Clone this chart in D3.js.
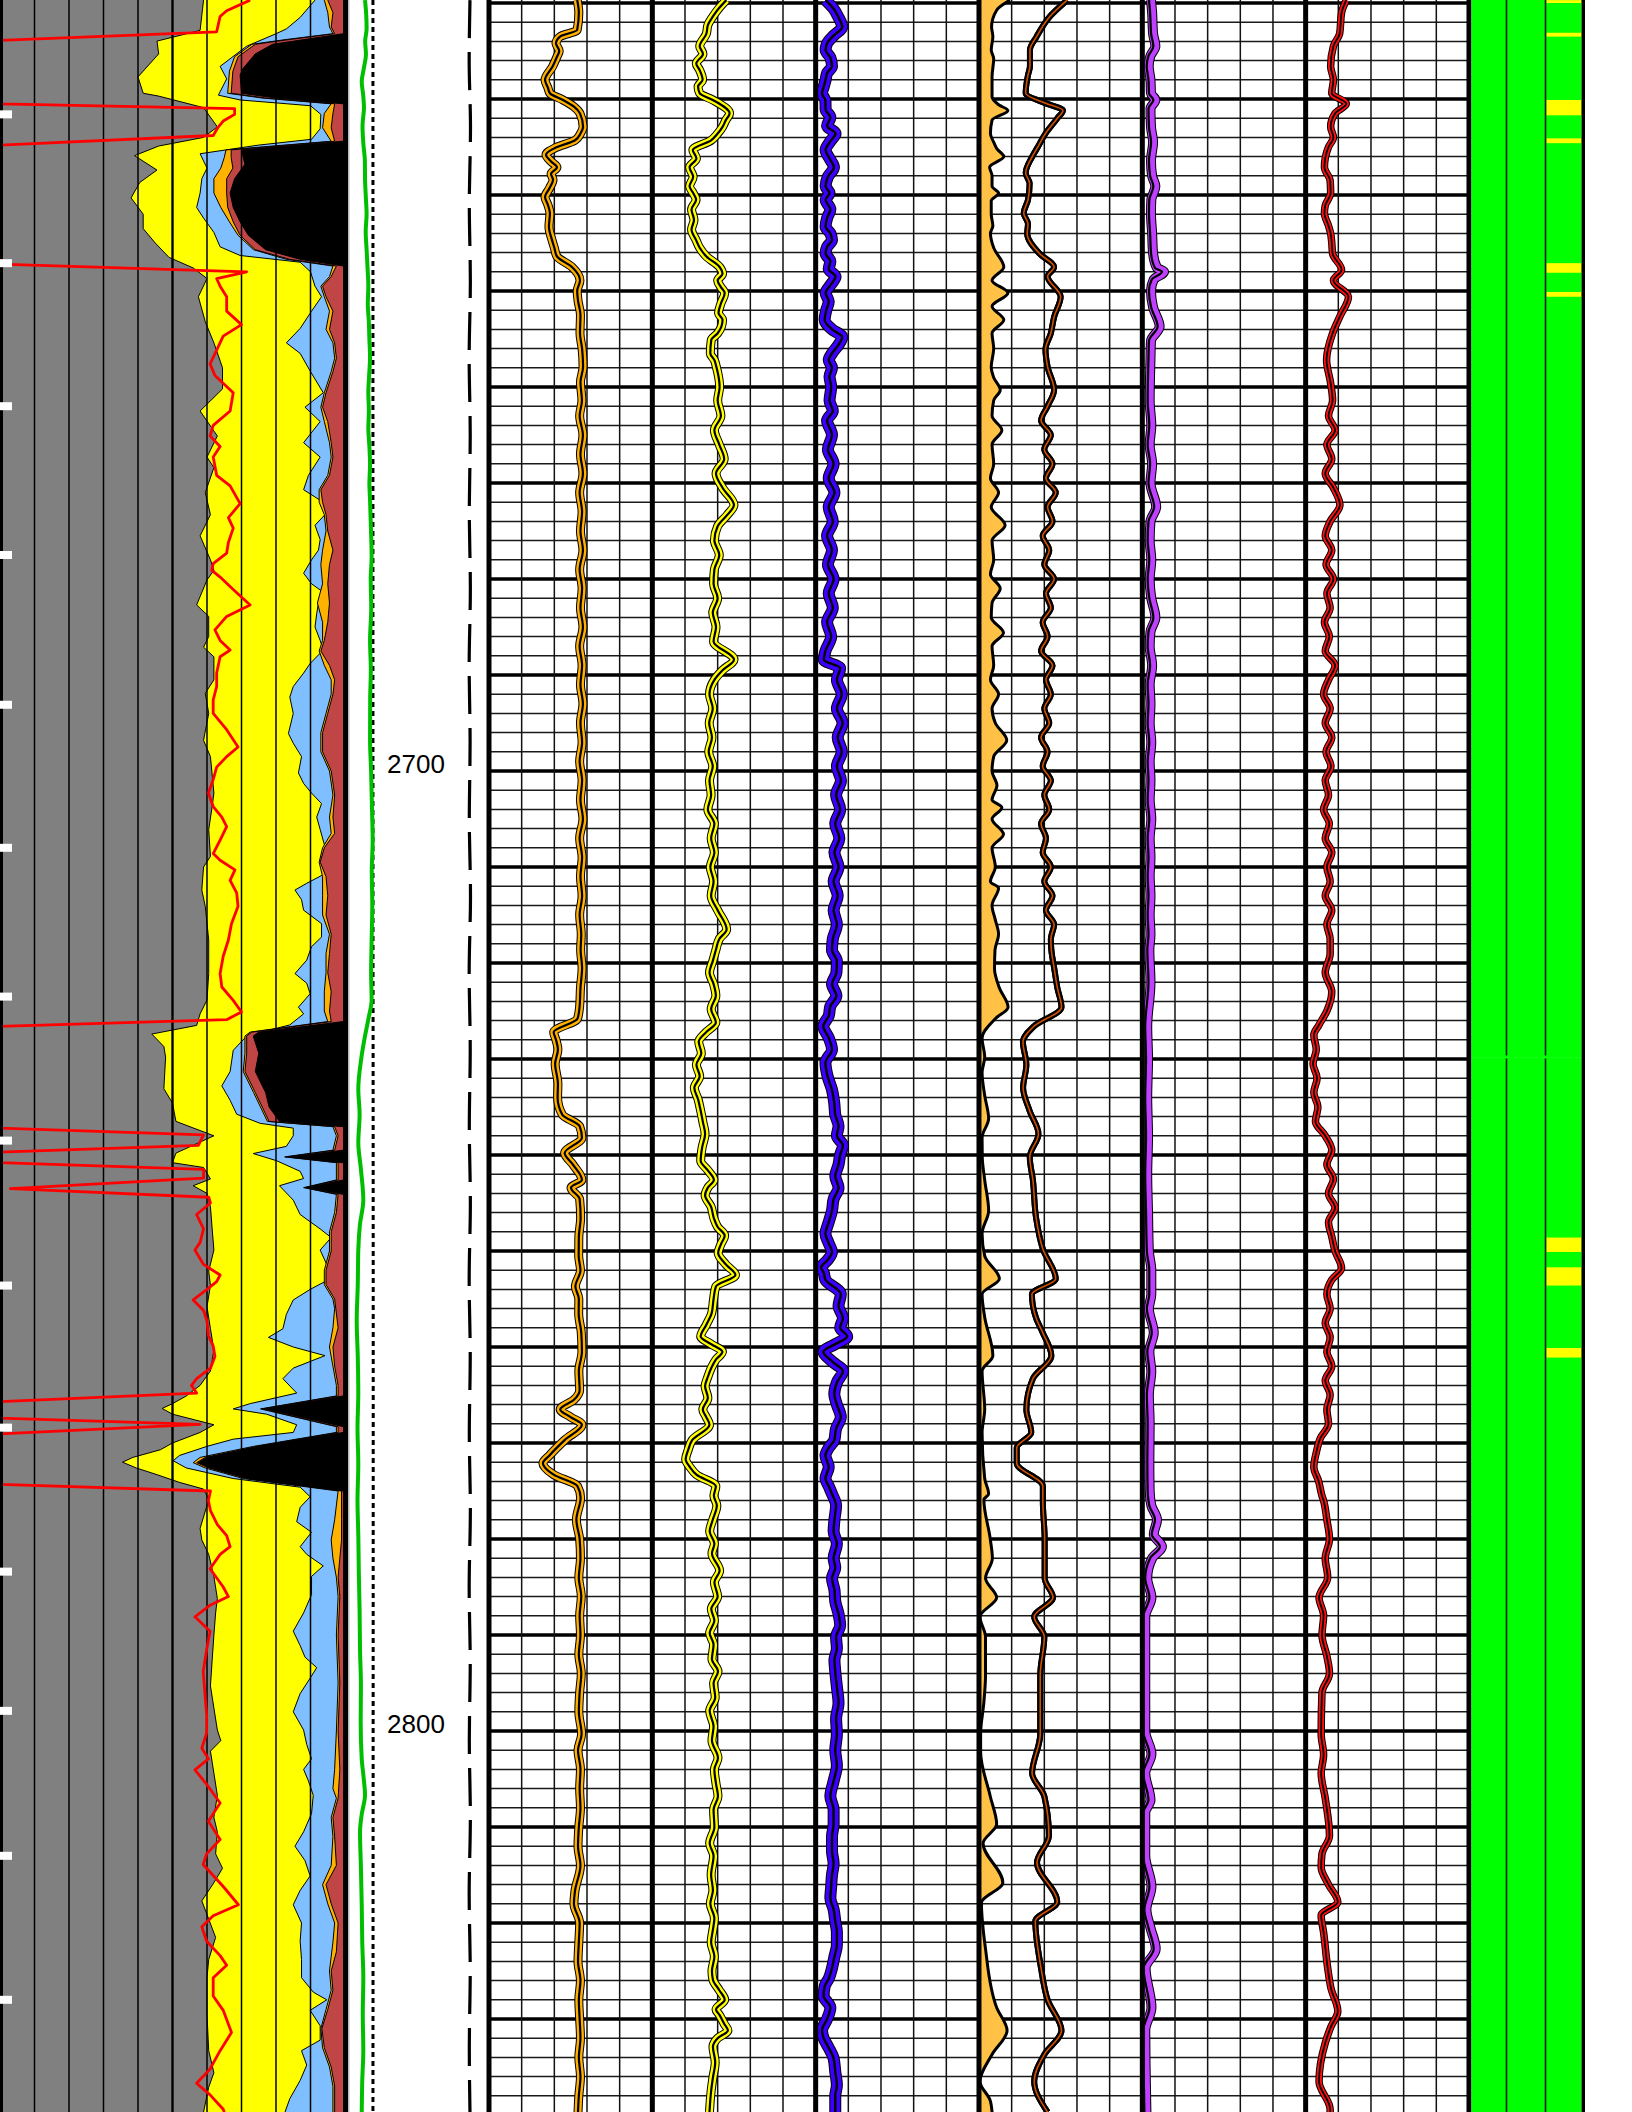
<!DOCTYPE html>
<html>
<head>
<meta charset="utf-8">
<script src="https://cdn.jsdelivr.net/npm/d3@7"></script>
<style>
  html, body { margin: 0; padding: 0; background: #fff; }
  svg { display: block; }
</style>
</head>
<body>
<div id="chart"></div>
<script>
// ---------- depth axis ----------
const depthLabels = [2700, 2800];
const footTicks = [2631.6, 2647.1, 2662.0, 2677.5, 2693.1, 2708.0, 2723.5, 2738.5, 2753.6, 2768.4, 2783.4, 2797.9, 2813.0, 2828.0];

// ---------- track 1 : volumetrics (percent of track width, [depth, value]) ----------
// right edge of clay (gray)
const clayEdge = [[2619.7,59],[2622.85,58],[2623.97,45.5],[2625.3,46],[2627.7,40],[2629.4,41.5],[2629.7,46],[2630.9,59],[2632.9,63],[2634.0,59],[2634.9,46],[2635.9,39],[2637.4,45.5],[2638.7,40.5],[2640.3,38],[2642.0,41.5],[2643.5,41.5],[2645.0,45],[2646.5,49],[2647.6,56],[2648.7,60],[2650.6,57.5],[2653.2,59.5],[2655.4,62],[2658.0,64.5],[2660.2,64.5],[2662.5,58],[2665.1,63],[2667.3,60],[2668.4,62],[2671.0,59.5],[2673.3,61],[2675.5,58],[2678.0,61],[2679.1,62],[2680.1,60],[2682.7,57],[2683.9,60.5],[2686.0,60.5],[2687.1,59],[2688.1,62],[2690.5,62],[2691.9,59.5],[2694.0,60.5],[2696.8,59],[2698.5,61],[2702.3,62],[2703.7,61.5],[2706.1,60.5],[2708.9,61],[2710.0,59],[2712.4,58.5],[2714.1,59.5],[2717.6,60.5],[2721.1,60.5],[2723.85,60],[2725.3,58],[2726.5,57],[2727.4,44],[2728.7,47.5],[2729.8,48],[2733.1,47.5],[2734.6,50],[2736.5,51],[2738.0,62],[2739.8,51],[2740.8,50],[2741.3,59],[2742.5,61],[2743.2,56],[2744.0,60],[2745.4,61],[2747.7,61.5],[2749.9,62],[2752.1,60.5],[2753.6,61],[2755.8,60],[2758.1,61],[2760.3,62],[2762.5,61],[2764.0,58],[2765.1,54],[2765.9,50],[2766.4,47],[2767.0,50],[2768.1,62],[2768.9,58],[2770.0,50],[2770.7,46.5],[2771.5,38.5],[2772.0,35.5],[2772.6,39.5],[2773.3,45.5],[2774.1,52],[2774.8,59],[2775.9,60.5],[2778.9,58],[2780.1,58.5],[2781.6,60.5],[2783.9,62],[2786.2,63],[2787.7,62.5],[2790.0,62],[2792.6,61.5],[2795.3,61],[2797.6,62],[2799.9,63],[2801.0,64],[2802.1,61],[2804.4,62],[2806.7,63],[2809.0,62],[2810.5,63],[2812.8,62.5],[2814.3,64.5],[2815.8,62],[2817.7,58.5],[2819.6,60.5],[2821.5,62.5],[2823.8,60.5],[2825.7,60],[2829.5,60],[2833.3,60.5],[2835.6,62],[2837.1,60.5],[2839.7,59]];

// left edge of water (light blue)
const waterEdge = [[2619.7,91.3],[2621.5,87],[2622.7,83],[2623.2,80],[2624.5,71.5],[2626.6,63.8],[2627.9,65.7],[2629.6,63.3],[2630.1,69.6],[2630.7,90],[2631.6,93],[2633.1,92.8],[2634.2,90.3],[2634.8,75],[2635.7,58],[2637.2,60],[2638.3,58.5],[2639.8,58],[2641.3,57],[2642.4,59],[2643.9,62],[2645.4,63.8],[2646.3,69.6],[2647.0,87],[2648.0,90],[2649.5,91.3],[2650.6,93.2],[2652.1,90.3],[2653.9,87],[2655.4,83],[2656.5,87],[2658.4,90],[2660.6,93.7],[2662.1,88.4],[2663.6,92.8],[2665.8,88],[2667.3,92.8],[2669.2,89.4],[2670.7,88],[2671.8,92.8],[2673.3,94.2],[2674.4,91.3],[2675.9,92.8],[2677.0,92.3],[2678.0,90.3],[2679.4,88],[2680.5,90.3],[2681.5,94.2],[2682.5,92.3],[2683.6,91.8],[2685.0,91.3],[2686.4,92.8],[2687.4,93.7],[2688.8,89.9],[2689.8,88],[2691.2,85],[2692.3,84],[2694.0,85],[2696.1,83.6],[2697.1,85],[2698.5,87.4],[2700.2,86.5],[2701.3,88],[2702.3,90.3],[2703.4,93.2],[2704.8,91.8],[2706.1,92.8],[2707.9,94.2],[2709.3,92.8],[2710.7,94.2],[2711.7,88.9],[2712.4,85.5],[2713.4,87.4],[2714.5,88],[2715.9,93.2],[2717.3,93.2],[2718.3,90.3],[2719.7,88.9],[2721.1,85.5],[2722.1,88.9],[2723.2,89.9],[2724.6,86.5],[2725.3,88],[2726.45,84],[2727.6,71.5],[2729.1,67.6],[2731.3,66.7],[2732.8,64.3],[2734.3,66.7],[2735.75,68.6],[2736.7,75.4],[2737.2,85],[2738.0,85],[2739.1,83],[2739.85,73.4],[2740.6,80.2],[2741.7,87],[2742.45,88],[2743.2,81],[2744.7,85],[2746.2,87],[2747.7,92.8],[2748.6,96],[2749.9,92.8],[2751.4,94.7],[2752.9,95.7],[2754.0,89.9],[2755.1,85],[2756.6,83],[2758.1,82],[2759.0,77.8],[2760.0,85],[2760.9,94.2],[2762.2,85],[2763.3,82],[2764.8,86],[2765.9,72.5],[2766.45,67.6],[2767.0,77.3],[2768.1,86],[2768.9,85],[2769.6,67.6],[2770.35,60],[2771.3,52],[2771.85,50.2],[2772.6,54],[2773.7,67.6],[2774.6,87],[2775.6,89.9],[2776.7,87],[2778.2,86],[2779.3,90.3],[2780.8,87],[2781.6,88.9],[2782.8,93.7],[2783.9,90.3],[2785.8,90.3],[2787.7,88],[2789.6,85],[2791.1,87],[2792.3,88.4],[2793.4,91.8],[2794.5,89.9],[2796.1,87],[2798.0,85],[2799.9,88],[2801.4,88.9],[2802.9,90.3],[2804.0,88],[2805.2,89.4],[2806.7,90.8],[2808.6,90.3],[2810.5,88],[2812.0,85.5],[2813.5,88.4],[2815.1,89.9],[2816.6,87],[2818.1,85],[2820.0,87.4],[2821.9,87],[2823.8,87.4],[2825.7,87.4],[2827.2,90.8],[2828.0,94.7],[2829.1,89.9],[2830.7,92.8],[2832.2,92.8],[2833.3,87.4],[2834.8,88.9],[2836.4,87],[2838.3,84],[2839.7,82.6]];

// left edge of the orange component
const orangeEdge = [[2619.7,94],[2621.0,95],[2622.5,95.5],[2623.2,96.5],[2623.8,83],[2624.3,73],[2625.6,68],[2627.1,66.5],[2629.4,66],[2629.9,76],[2630.5,96],[2631.5,94],[2633.0,93.5],[2634.4,96],[2635.3,65.5],[2636.1,65],[2637.2,64],[2638.3,62],[2639.8,62],[2641.3,64],[2642.8,66.5],[2644.2,69],[2645.7,73.5],[2646.7,83],[2647.4,96.5],[2648.5,95.5],[2649.5,93],[2650.6,94],[2652.1,95.5],[2654.0,94.5],[2655.4,96.5],[2657.0,97],[2658.4,96],[2660.6,94],[2662.1,93],[2663.6,94],[2665.8,95.5],[2667.3,96],[2669.2,95],[2670.7,92.5],[2672.0,92.5],[2673.3,94],[2675.0,94.5],[2677.0,93.5],[2678.5,93],[2680.5,93.5],[2682.5,92],[2684.5,93.5],[2686.4,93.5],[2687.5,92.5],[2689.0,94],[2690.5,96],[2692.0,96],[2694.0,94.5],[2696.0,93],[2698.0,93],[2700.0,95.5],[2702.5,96.5],[2704.8,95.5],[2706.5,96],[2708.0,93.5],[2709.5,92.5],[2711.0,93.5],[2713.0,93.5],[2715.0,93.5],[2717.0,95.5],[2719.0,94.5],[2721.0,94.5],[2723.0,94],[2725.0,94],[2726.1,95],[2727.2,72.5],[2727.6,71],[2729.4,71],[2731.3,70.5],[2733.5,73.5],[2735.0,75.5],[2736.5,77.5],[2737.05,96.5],[2738.0,97.5],[2739.5,96.5],[2740.2,82.5],[2740.8,97.5],[2742.6,97.5],[2743.4,88],[2744.1,97.5],[2746.0,97],[2748.0,95.5],[2750.0,95.5],[2752.0,94],[2753.5,94],[2755.0,96.5],[2756.0,97],[2758.0,96.5],[2760.0,95.5],[2762.0,96.5],[2764.0,97.5],[2765.1,97.5],[2766.45,75.5],[2768.3,97.5],[2768.9,97.5],[2770.35,73.5],[2771.5,58],[2772.05,56],[2772.6,59.5],[2773.7,70.5],[2775.0,98],[2778.0,97],[2780.1,96],[2782.0,96.5],[2784.0,97.5],[2786.0,98],[2790.0,97.5],[2795.0,98],[2800.0,97.5],[2804.0,97],[2806.0,96.5],[2807.0,97.5],[2809.0,96],[2811.0,96.5],[2814.0,96],[2816.0,93.5],[2818.0,95],[2820.0,97],[2822.0,96.5],[2825.0,95.5],[2827.0,96],[2829.0,94.5],[2831.0,93],[2833.0,93.5],[2835.0,95.5],[2837.0,96.5],[2839.7,96.5]];

// left edge of bound water (brown)
const boundEdge = [[2619.7,95],[2621.0,96.5],[2622.5,96],[2623.2,97],[2623.8,84],[2624.3,74],[2625.6,69],[2627.1,67.5],[2629.4,67],[2629.9,77],[2630.5,97],[2631.5,96.5],[2633.0,96],[2634.4,97],[2635.3,67],[2636.1,67],[2637.2,67.5],[2638.3,65.7],[2639.8,65.7],[2641.3,66],[2642.8,67.6],[2644.2,69.6],[2645.7,74],[2646.7,84],[2647.4,97.5],[2648.5,96],[2649.5,93.5],[2650.6,94.5],[2652.1,96.5],[2654.0,95.5],[2655.4,97],[2657.0,97.5],[2658.4,96.5],[2660.6,94.5],[2662.1,93.5],[2663.6,95],[2665.8,96],[2667.3,96.5],[2669.2,95.5],[2670.7,93],[2672.0,93.5],[2673.3,94.5],[2675.0,95],[2677.0,96.5],[2678.5,95.5],[2680.5,95],[2682.5,95.5],[2684.5,95],[2686.4,94],[2687.5,93],[2689.0,95.5],[2690.5,97],[2692.0,96.5],[2694.0,95],[2696.0,93.5],[2698.0,93.5],[2700.0,96],[2702.5,97],[2704.8,96.5],[2706.5,97],[2708.0,94],[2709.5,92.8],[2711.0,94.5],[2713.0,95],[2715.0,94.5],[2717.0,96],[2719.0,95.5],[2721.0,95],[2723.0,96],[2725.0,95.5],[2726.1,96],[2727.2,73],[2727.6,71.5],[2729.4,71.5],[2731.3,71],[2733.5,74],[2735.0,76],[2736.5,78],[2737.05,97],[2738.0,98],[2739.5,97],[2740.2,83],[2740.8,98],[2742.6,98],[2743.4,88.5],[2744.1,98],[2746.0,97.5],[2748.0,96],[2750.0,96],[2752.0,94.5],[2753.5,94.5],[2755.0,97],[2758.0,98],[2760.0,96.5],[2762.0,97],[2764.0,98],[2765.1,98],[2766.45,76],[2768.3,98],[2768.9,98],[2770.35,74.5],[2771.5,59.5],[2772.05,57],[2772.6,60.5],[2773.7,71.5],[2775.0,99],[2778.0,99],[2780.1,99],[2782.0,98.5],[2784.0,98],[2786.0,98.5],[2790.0,98],[2795.0,98.5],[2800.0,98],[2804.0,98.5],[2807.0,98],[2809.0,96.5],[2811.0,97],[2814.0,97.5],[2816.0,94.5],[2818.0,96],[2820.0,98],[2823.0,97.5],[2825.0,96],[2827.0,96.5],[2829.0,95],[2831.0,93.3],[2833.0,94],[2835.0,96],[2837.0,97],[2839.7,97]];

// left edge of hydrocarbon (black)
const hydroEdge = [[2619.7,100],[2623.0,100],[2623.2,99.5],[2624.3,79],[2625.3,74],[2626.8,70.5],[2627.5,69.6],[2629.4,70],[2629.9,80],[2630.5,99.5],[2630.6,100],[2634.3,100],[2634.4,99.5],[2635.3,70],[2636.1,70.5],[2636.8,71],[2638.3,68],[2639.8,66.7],[2641.3,67.6],[2642.8,69.6],[2644.2,72],[2645.7,77],[2646.7,87],[2647.4,99.5],[2647.5,100],[2726.0,100],[2726.1,99.5],[2727.2,75],[2727.6,73.4],[2729.4,75],[2731.3,74],[2733.5,77],[2735.0,78],[2736.5,81],[2737.05,99.5],[2737.1,100],[2739.4,100],[2739.5,99.5],[2740.2,84],[2740.8,99.5],[2740.9,100],[2742.5,100],[2742.6,99.5],[2743.4,89],[2744.1,99.5],[2744.2,100],[2765.0,100],[2765.1,99.5],[2766.45,77],[2768.3,99.5],[2768.4,100],[2768.8,100],[2768.9,99.5],[2770.35,75],[2771.5,60],[2772.05,57.5],[2772.6,61],[2773.7,72],[2775.0,99.5],[2775.1,100],[2839.7,100]];

// red curve of track 1 (off-scale values pinned at 0)
const spCurve = [[2619.7,72.5],[2620.8,65.7],[2621.4,63.8],[2623.0,62.8],[2623.9,0],[2630.5,0],[2631.0,68],[2631.6,68],[2632.3,64.7],[2632.9,63.3],[2633.8,61.8],[2634.8,0],[2647.2,0],[2648.0,71.5],[2648.7,62.8],[2649.5,63.8],[2650.6,65.7],[2652.1,65.7],[2653.5,70],[2654.7,64.7],[2656.15,62.8],[2657.6,60.9],[2658.8,62.3],[2660.6,67.6],[2662.5,66.7],[2664.0,61.8],[2665.1,60.9],[2666.2,63.8],[2667.3,61.8],[2669.2,62.8],[2670.3,66.7],[2672.15,69.6],[2673.6,66.2],[2674.7,67.6],[2676.2,66.2],[2677.3,65.7],[2678.4,61.8],[2679.1,61.4],[2679.8,63.8],[2681.1,67.6],[2682.7,72.5],[2683.9,65.7],[2685.3,62.3],[2686.4,63.8],[2687.4,66.7],[2688.1,63.8],[2689.8,62.8],[2691.2,62.8],[2692.6,61.8],[2694.0,61.8],[2695.7,65.7],[2697.5,69],[2698.5,65.7],[2699.6,62.8],[2700.9,61.8],[2702.3,60.4],[2703.7,61.8],[2704.8,64.3],[2705.8,65.7],[2707.2,63.8],[2708.6,61.8],[2709.3,63.8],[2710.3,68.1],[2711.4,66.7],[2712.7,68.6],[2714.1,69],[2715.9,67.1],[2717.6,66.2],[2719.3,64.7],[2721.1,63.8],[2722.5,64.3],[2723.9,67.6],[2725.1,70],[2725.9,65.7],[2726.6,0],[2737.2,0],[2737.9,59],[2739.0,57.5],[2739.7,0],[2740.8,0],[2741.5,59],[2742.4,59],[2743.5,3],[2744.4,60.5],[2745.0,61],[2746.2,57],[2747.7,59],[2749.1,58],[2749.9,56.5],[2751.4,59],[2752.5,63.8],[2753.2,62.8],[2754.0,60],[2755.1,56],[2756.2,59],[2757.3,60],[2758.8,60.4],[2759.9,61.8],[2761.0,62.3],[2762.2,61],[2763.3,57],[2764.0,55.5],[2764.8,57],[2765.7,0],[2767.4,0],[2768.05,58],[2769.05,0],[2774.3,0],[2775.0,61],[2776.0,60.4],[2777.05,61],[2778.5,63],[2779.65,65.7],[2780.8,66.7],[2781.6,63.8],[2783.1,60.9],[2785.0,64.7],[2786.0,66.2],[2786.9,60.9],[2788.1,56.5],[2789.6,60.9],[2791.5,59.9],[2793.8,58.9],[2796.1,59.4],[2798.3,59.9],[2800.2,59.9],[2801.8,58.5],[2802.9,60.4],[2804.05,56.5],[2805.55,59.9],[2807.5,63.8],[2809.4,60.4],[2811.3,63.8],[2812.8,59.9],[2813.9,58.9],[2816.2,64.7],[2818.1,69.1],[2819.25,61.8],[2820.4,58.5],[2821.9,59.9],[2823.4,63.8],[2824.4,65.7],[2825.7,61.8],[2827.6,61.8],[2829.1,64.7],[2831.4,67.1],[2833.3,63.8],[2835.2,60.9],[2836.7,57],[2837.9,60.9],[2839.4,64.7],[2839.7,65]];

// ---------- depth track curves (percent of depth track width) ----------
const caliper = [[2619.7,12.9],[2621.2,13.8],[2622.7,14.1],[2624,13],[2625.3,13.6],[2626.8,12],[2628.2,10.4],[2629.6,11.5],[2630.9,12.1],[2632.8,11],[2634.6,11.6],[2636.5,12.8],[2638.3,12.9],[2640.2,13.5],[2642.0,14.1],[2643.8,13.4],[2645.7,14.1],[2647.6,14.8],[2649.5,15.4],[2651.4,15],[2653.2,15.8],[2655,16.2],[2656.9,16.7],[2658.8,16],[2660.6,15.4],[2662.5,15.8],[2664.3,15.4],[2666.2,16.2],[2668.1,16.7],[2670,16.2],[2671.8,16.7],[2674.8,17.4],[2677.7,17.9],[2680,17.2],[2683,17.6],[2686.4,16.7],[2689.5,17.3],[2692.5,16.8],[2696.8,16.7],[2700,17.5],[2703.5,18.1],[2707.2,18.7],[2710.5,18],[2714,18.4],[2717.6,17.9],[2721,17.5],[2723.85,17.9],[2725.8,15.5],[2727.6,12.9],[2730,10],[2733.1,7.8],[2735.8,8.8],[2738.7,7.8],[2741.5,9.8],[2744.7,11.6],[2747.3,9],[2749.9,7.8],[2753.5,7.4],[2757.3,6.6],[2761,7.4],[2764.8,7.8],[2768.5,7.2],[2772.2,7.8],[2776,7.2],[2779.6,7.8],[2783.5,8.2],[2787.5,8.8],[2791.5,9.1],[2795.3,9.8],[2799,9.6],[2802.9,10.4],[2804.8,11.8],[2806.7,12.9],[2808.6,10.5],[2810.5,9.1],[2814.3,9.8],[2818.1,10.4],[2822,10.8],[2825.7,11.6],[2829.5,11.2],[2833.3,11.6],[2836.4,10.8],[2839.7,10.4]];
const bitSize = [[2619.7,18.9],[2690,18.9],[2762,19.1],[2839.7,18.9]];
const tension = [[2619.7,92.4],[2626,91.8],[2633,92.8],[2641,91.9],[2649,92.7],[2657,91.8],[2665,92.6],[2673,91.9],[2681,92.7],[2689,91.8],[2697,92.5],[2705,91.9],[2713,92.8],[2721,91.8],[2729,92.6],[2737,91.9],[2745,92.7],[2753,91.8],[2761,92.6],[2769,91.9],[2777,92.7],[2785,91.8],[2793,92.6],[2801,91.9],[2809,92.7],[2817,91.8],[2825,92.6],[2833,91.9],[2839.7,92.4]];

// ---------- tracks 2-7 (percent of each track width) ----------
const curveT2 = [[2619.7,54],[2621,55],[2622.8,54],[2623.5,43.5],[2624.2,41],[2625,43],[2625.6,41.6],[2626.6,39],[2628,34.3],[2628.8,36],[2629.4,37.3],[2630.1,45.3],[2630.8,52],[2631.5,55.7],[2632.9,57.6],[2633.6,56],[2634.3,52.7],[2635.1,40.4],[2635.8,34.9],[2636.5,38],[2637.1,41.6],[2637.8,38],[2638.4,39.2],[2639.3,37],[2640.2,34.3],[2641,36],[2641.9,37.3],[2643.3,36.7],[2644.7,38.6],[2645.5,40],[2646.4,41.6],[2647.5,50.8],[2648.9,55.7],[2650,54],[2651,54.5],[2652.5,56],[2654.4,55.7],[2656,57],[2657.9,57.6],[2659.5,56],[2661.4,56.9],[2663,55.5],[2665,57.5],[2667,56],[2669,57.5],[2671,55.5],[2673,57],[2675,56],[2677,57.5],[2679,55.5],[2681,57],[2683,56],[2685,57.5],[2687,55.5],[2689,57],[2691,56],[2693,57.5],[2695,56],[2697,57],[2699,55.5],[2701,57],[2703,56],[2705,57.5],[2707,55.5],[2709,57],[2711,56],[2713,57],[2715,55.5],[2717,56.5],[2718.65,56.1],[2720.5,57],[2722.6,56],[2724.5,55.5],[2725.8,54.2],[2727.2,39.6],[2728,41],[2729,42.2],[2730.5,40.5],[2732.6,42.2],[2734,42],[2735.8,44.9],[2737,55.5],[2738.2,56.9],[2739.8,46.3],[2741,51.4],[2742.6,56.9],[2743.4,50.2],[2744.6,55.5],[2746.6,56.1],[2748.5,55],[2750.5,54.9],[2752,56],[2753.7,52.9],[2755,55],[2756.5,54.9],[2758.5,56.5],[2760.5,56.9],[2762.5,55],[2764.5,55.5],[2765.5,52],[2766.5,43.6],[2767.3,50],[2768.1,56.9],[2769.7,46.3],[2771.3,37],[2772.1,33],[2773.3,39.6],[2774.5,54.2],[2775.7,56.1],[2778,53.5],[2780,55.5],[2782,56],[2784,55],[2786,56.5],[2788,55.5],[2790,56],[2792,55],[2794,56.5],[2796,55.5],[2798,55],[2800.3,56.7],[2802,54.5],[2804,56],[2806,55.5],[2808,56],[2810,55],[2812,54.5],[2814,56],[2816.6,52.7],[2818,52],[2820,55.5],[2822,55],[2824,54.5],[2826,56],[2828,55],[2830,55.5],[2832,56],[2834,55],[2836,56],[2838,55],[2839.7,54.5]];

const curveT3 = [[2619.7,45.3],[2620.5,41],[2621.4,37.1],[2622.3,34],[2623.2,33.1],[2624.5,29],[2625.3,31],[2626.3,26.9],[2627,29],[2628,30.8],[2628.7,28],[2629.4,29],[2630.1,37],[2631.5,47.3],[2632.2,45],[2632.9,43],[2633.6,40],[2634.3,36],[2635.3,24.8],[2636.2,27],[2637.1,22.8],[2638.1,25],[2639.1,22.8],[2639.8,25],[2640.5,26.8],[2641.5,24],[2642.6,25.5],[2643.6,24],[2644.7,26.8],[2645.5,29],[2646.4,33.1],[2647.5,41.2],[2648.2,43],[2648.9,40],[2649.6,42],[2650.2,44.3],[2651.3,42],[2652.3,40.5],[2653,43],[2653.7,42.3],[2654.4,40],[2655.1,36.1],[2656.5,35.5],[2657.2,38],[2657.9,39.2],[2660,41.2],[2661.4,40],[2663,42],[2664.5,38],[2666,41],[2667.5,44],[2669,39],[2670.5,43],[2672.3,50],[2673.3,46],[2674.5,40],[2676,38],[2677.5,41],[2679,38],[2680.5,37.5],[2682,40],[2683.5,37],[2685,39],[2686.5,37.5],[2688.4,50],[2689.5,43],[2690.5,38],[2692,35],[2693.5,37],[2695,34.8],[2696.5,36.5],[2698,34.5],[2699.5,37],[2701,35],[2702.5,36],[2704,34],[2705.5,38],[2707,36],[2708.5,38],[2710,35.5],[2711.5,37.5],[2713,36],[2714.5,40],[2716.5,45.5],[2717.5,41],[2718.65,38.9],[2719.8,37],[2721,35],[2722.2,37.5],[2723.4,38.9],[2724.8,36],[2726.2,38.9],[2727.2,33],[2728.2,28.4],[2729.4,30],[2730.6,27],[2731.8,29],[2733,25.7],[2734.2,28],[2735.4,29.6],[2736.6,31],[2737.8,32.3],[2739.2,30.5],[2740.6,29.6],[2741.6,34],[2742.6,37.7],[2743.4,34],[2744.2,32.3],[2745.4,36],[2746.6,37.7],[2747.5,40],[2748.4,44.3],[2749.3,42],[2750.2,40.3],[2751.4,45],[2752.5,50.9],[2753.7,38.9],[2755,37.5],[2756.5,36.3],[2757.7,33],[2758.9,29.6],[2759.7,36],[2760.5,42.9],[2761.3,39],[2762.1,36.3],[2763.1,34],[2764.1,32.3],[2765.3,34],[2766.5,30.9],[2767.3,33],[2768.1,35],[2769.7,24.4],[2770.7,22],[2771.7,20.4],[2772.5,23],[2773.3,27],[2774.5,38.9],[2775.5,37.7],[2776.5,39.5],[2778,37],[2779.2,35.1],[2780.5,38],[2781.5,36.5],[2783.3,41.2],[2784.5,38],[2786,40],[2787.3,36.1],[2788.5,38],[2789.8,35.1],[2791,37.5],[2792.5,36.5],[2793.8,40.2],[2795,37.5],[2796.5,38.5],[2797.9,35.1],[2799.5,37.5],[2801,36.5],[2802.8,40.2],[2804,38],[2805.5,39],[2806.8,40.2],[2808.2,37.5],[2810,38],[2811.7,35.1],[2813,37.5],[2815,36],[2816.6,37.1],[2818,35.5],[2819.5,38],[2820.7,37.1],[2822,36],[2823.5,38],[2825,36.5],[2825.9,37.1],[2827,41],[2828,44.3],[2829,39],[2829.6,41.2],[2830.5,44],[2831.2,46.3],[2832,40],[2832.9,37.1],[2834.5,38.5],[2836.1,37.1],[2837.5,36],[2839.4,35.1],[2839.7,35]];

const curveT4 = [[2619.7,6.1],[2620.6,11],[2621.5,14],[2622.5,16.3],[2623.4,11],[2624.2,7],[2624.9,6.1],[2625.7,9],[2626.6,10],[2627.3,7],[2628,6.1],[2628.7,5],[2629.4,3.9],[2630.2,6],[2631.1,6.1],[2631.9,9],[2632.8,7],[2633.6,12.2],[2634.4,9],[2635.3,6.1],[2636.2,8.5],[2637.1,11.2],[2638.1,7.5],[2639.1,6.1],[2639.8,8.5],[2640.5,6.1],[2641.5,9],[2642.4,7],[2643.3,6.1],[2644,9],[2644.7,10],[2645.4,7],[2646.1,6.1],[2646.9,9],[2647.7,8],[2648.5,12.2],[2649.4,9],[2650.2,6.1],[2651.1,8],[2652,6.5],[2653,5.5],[2654,10],[2654.8,16.3],[2655.6,14],[2656.5,10],[2657.2,8],[2658,10],[2658.9,8.5],[2660,9.5],[2661.4,8.5],[2662.5,10.5],[2663.5,7],[2665,10],[2666.5,7.5],[2668,11],[2669.5,8],[2671,11.5],[2672.5,8],[2674,10.5],[2675.5,7],[2677,10],[2678.5,7.5],[2680,11],[2681.5,8],[2683,10.5],[2684.5,7],[2686,9.5],[2687.5,6],[2688.4,5],[2689.3,15],[2690.5,13],[2692,16],[2693.5,13],[2695,16.5],[2696.5,13.5],[2698,16],[2699.5,13],[2701,15.5],[2702.5,12.5],[2704,15],[2705.5,12],[2707,14.5],[2708.5,11.5],[2710,14],[2711.5,11],[2713,13.5],[2714.5,11],[2716,13],[2717.5,10.5],[2718.65,10],[2719.8,13],[2721,12.7],[2722.2,10],[2723.4,12.7],[2724.5,9],[2725.5,8],[2726.6,4.7],[2727.8,8],[2729,10],[2730.4,6],[2731.8,7.3],[2733.2,10],[2734.6,11.4],[2735.8,12],[2737,14],[2738,13],[2739,16.7],[2740,15],[2741,14],[2742.2,12],[2743.4,14],[2744.6,11],[2745.8,10],[2747,8],[2748.2,6],[2749.2,8],[2750.1,10],[2751,7],[2751.7,3.4],[2752.3,5],[2753,6],[2754.5,15.4],[2755.7,14],[2757,16.7],[2758,15],[2758.9,19.3],[2759.7,12],[2760.5,4.7],[2761.5,10],[2762.5,16.7],[2763.7,13],[2764.9,11.4],[2766,13],[2767.3,15.4],[2768.5,12.5],[2769.7,11.4],[2770.5,8],[2771.3,6],[2772.5,8],[2773.7,6],[2774.5,8],[2775.3,10],[2776.5,12.5],[2778,11.5],[2779.2,11],[2780.5,13],[2782,11],[2783,12],[2784.1,10],[2785.3,11.5],[2786.5,12],[2787.8,14],[2789,15],[2790.2,12.5],[2791.4,13],[2792.6,11.5],[2793.8,12],[2795.4,13],[2797.1,14],[2798.7,12.5],[2800.3,13],[2802,12],[2803.6,13],[2805.2,11],[2806.8,9],[2808.2,11],[2809.7,11],[2811,10],[2812.5,10],[2813.8,11],[2815,10],[2816.2,9.5],[2817.4,9],[2818.6,11],[2819.8,12],[2821,13],[2822.3,13],[2823.5,11.5],[2824.7,10],[2825.8,8],[2826.6,5.5],[2827.6,4.9],[2828.8,9],[2830,7],[2831.2,3.9],[2832,4.9],[2833,8],[2834.1,11],[2835.5,12],[2836.9,13],[2838,12],[2839.4,12],[2839.7,12]];

const fillT5 = [[2619.7,19],[2620.7,11],[2622.5,7.7],[2623.5,8.5],[2624.9,7.5],[2625.8,9],[2627.7,8],[2629.8,8],[2630.6,12],[2631.2,17.7],[2632.2,8],[2633.6,7],[2634.5,9],[2635.2,11],[2636,15.2],[2637.1,6.5],[2638,8],[2639.1,8],[2639.8,12],[2640.6,7.5],[2642,7.5],[2643.2,8.5],[2644,7],[2645.5,9],[2647.5,15.2],[2648.9,8],[2650.2,17.7],[2651.6,8],[2653,15.2],[2654.4,8],[2656,9],[2657.9,7.5],[2659,9],[2660.3,13],[2661.4,9],[2663,8],[2664.5,14],[2666,8],[2668,9],[2669.5,7],[2671,12],[2672.5,7.5],[2674.4,16],[2676,8],[2678,9],[2679.5,7],[2681,13],[2682.5,8],[2684,7.5],[2685.6,15],[2687,8],[2689,9],[2690.5,7],[2692,12],[2693.5,8],[2695,10],[2696.8,17],[2698.5,9],[2700,8],[2701.5,11],[2703,8],[2703.8,14],[2705,8],[2706.6,15],[2708,8],[2710,10],[2711.5,7],[2712.2,12],[2714,8],[2715.5,10],[2717,12],[2718.65,9.8],[2720.6,9.5],[2722.6,12.5],[2724.6,17.8],[2725.8,10],[2727.8,1.9],[2729.8,3.5],[2731.4,1.9],[2733.8,3.5],[2736.2,5.9],[2738.2,1.9],[2740.2,2],[2742.6,3.5],[2745.8,5.9],[2748.2,1.9],[2750.5,3.5],[2752.9,12.5],[2754.5,1.9],[2756.9,3.5],[2760.9,8.5],[2762.5,1.9],[2766.5,3.5],[2768.9,1.9],[2773.7,3.5],[2775.3,5.9],[2775.9,3],[2780,6.9],[2782,8.2],[2784.1,4],[2786.1,10.8],[2788.1,0.6],[2790.2,4],[2794.2,4],[2797,3],[2800.3,1],[2802.2,1],[2806.8,6.9],[2809.7,10.8],[2811.7,2.5],[2815.8,14.6],[2817.9,1.5],[2822.7,4],[2828.8,10.8],[2831.2,17.2],[2833.7,8],[2836.5,0.6],[2838.5,6.9],[2839.7,8]];

const curveT5 = [[2619.7,54],[2621.4,43.4],[2623.5,35.3],[2624.9,31.2],[2626.6,31.2],[2627.5,30],[2629.4,28.6],[2630.4,40],[2631.2,51.4],[2632,48],[2633.6,40.7],[2635,36],[2636,32.6],[2637.7,28.6],[2638.8,31],[2640.5,30],[2641.9,27.4],[2643,30],[2644,29.5],[2646.1,37],[2647.5,46],[2648.5,42],[2650.6,50],[2652.7,46],[2654.4,44],[2656.1,40.7],[2657.9,42],[2660.3,46],[2662,42],[2663.5,38],[2665,44],[2666.5,40],[2668,45],[2669.5,41],[2671,47],[2672.5,42],[2674,45],[2675.5,39],[2677,43],[2678.5,40],[2680,46],[2681.5,41],[2683,44],[2684.5,39],[2686,42],[2687.5,38],[2689,45],[2690.5,41],[2692,44],[2693.5,40],[2695,43],[2696.5,38],[2698,42],[2699.5,39],[2701,44],[2702.5,40],[2704,43],[2705.5,38],[2707,41],[2708.5,39],[2710,44],[2711.5,40],[2713,45],[2714.5,41],[2716,46],[2717.5,44],[2718.65,44.3],[2720.5,46],[2722.6,48],[2724.6,50.5],[2726.6,33.6],[2728.2,26.9],[2730.6,29],[2733,27],[2735.4,31],[2737.8,36.4],[2740.2,31.1],[2742.6,33],[2746.6,35],[2749.8,39.1],[2752.9,47],[2754.5,32.4],[2757,35],[2758.5,39],[2760.9,44.3],[2763.3,33],[2766.5,29],[2768.9,32],[2770.5,23.1],[2772.1,23.1],[2774.5,39.1],[2776.1,39.1],[2780,40.2],[2784.1,40.2],[2786.1,45.3],[2788.1,33.8],[2790.2,40],[2794.2,37.5],[2800.3,37.5],[2804.4,32.5],[2806.8,40],[2810.9,42.8],[2813.7,35.5],[2817.8,47.9],[2819.8,34.5],[2824.7,38],[2828,42],[2831.2,50.5],[2833.7,40],[2836.5,33.8],[2839.7,42]];

const curveT6 = [[2619.7,5.3],[2621,6],[2623.2,6.6],[2624.5,8],[2625.5,5],[2626.6,3.9],[2628,5],[2629.4,5.3],[2630.1,8],[2631,5],[2632.9,5.3],[2634.5,6.6],[2636.4,5.3],[2638,6],[2639.1,8],[2640.5,5.5],[2641.9,5.3],[2644,6],[2646.1,6.6],[2647.6,9],[2648,13.3],[2648.8,7],[2650,5.3],[2651.7,6.6],[2653.7,10.6],[2655.2,5.3],[2657,5],[2661.4,4.5],[2664,5.5],[2666,4.5],[2668,6],[2670,5],[2672.5,8.5],[2674,5],[2676,4.5],[2678,5.5],[2680,4.5],[2682,5.5],[2684,8],[2685.5,5],[2687,4.5],[2689,6],[2691,4.5],[2693,5],[2695,4.5],[2697,5.5],[2699,4.5],[2701,5],[2703,4.5],[2705,5.5],[2707,4.5],[2709,5],[2711,4.5],[2713,5],[2715,4.5],[2717,5],[2718.65,4.3],[2722,5],[2726.6,3],[2730,3.5],[2734,3],[2738,3.5],[2742,3],[2746,3.5],[2750,4],[2752,5.5],[2754.5,5.5],[2756,4],[2758.5,7],[2760.5,4.3],[2762.5,5.5],[2765,4],[2768,4.5],[2772,4.3],[2775,4.5],[2776.5,5.5],[2778,9],[2779.5,7],[2780.8,12],[2782,6],[2784.1,3],[2786.1,5.6],[2788.1,1.8],[2792,1.8],[2796,1.8],[2800,1.8],[2802.4,5.6],[2804.4,1.8],[2807.2,5],[2808.5,1.8],[2813,1.8],[2816.2,5.6],[2818.6,2.5],[2820.5,5],[2822.7,8.2],[2824.7,2],[2828.8,5.6],[2831.2,1.8],[2835,2],[2839.7,2.5]];

const curveT7 = [[2619.7,24.9],[2621,22],[2623.2,20.8],[2624.5,17],[2626.6,15.3],[2628,17],[2629.4,16],[2630.5,24.9],[2631.5,18],[2632.9,15.3],[2634,17],[2635,14],[2637.1,11.5],[2638.5,15],[2639.8,15.3],[2641.1,12],[2641.9,11.5],[2643.2,14],[2644,15.3],[2645,16],[2646.1,16.5],[2647.8,22],[2648.9,17],[2650.6,26.2],[2652.7,20.8],[2654.4,16.5],[2657.2,12.8],[2659.6,15.3],[2661.4,16.5],[2663,14],[2664.5,18],[2666,13],[2667.5,16],[2669,12],[2670.5,17],[2672.3,21],[2674,15],[2675.5,12],[2677,16],[2678.5,12.5],[2680,17],[2681.5,13],[2683,15],[2684.5,11.5],[2686,14.5],[2687.5,12],[2689,18],[2690.5,14],[2692,11],[2693.5,15],[2695,12],[2696.5,16],[2698,12.5],[2699.5,15.5],[2701,12],[2702.5,14],[2704,11],[2705.5,14.5],[2707,12],[2708.5,16],[2710,13],[2711.5,15],[2713,12],[2714.5,16],[2716,13],[2717.5,15],[2719,15],[2721,12],[2723,16],[2725,13],[2726.5,8],[2727.5,5],[2729,6.5],[2730.5,4.5],[2732,7],[2733.5,5],[2735,7.5],[2736.5,6],[2738,12],[2739.5,16],[2741,13],[2742.5,17],[2744,14],[2745.5,18],[2747,14],[2748.5,16],[2750,18],[2751.8,22],[2753,16],[2754.5,13],[2756,15],[2757.5,12],[2759,15],[2760.5,13],[2762,16],[2763.5,12],[2765,15],[2766.5,13],[2768,14],[2769.5,9],[2771,6.5],[2772.5,5],[2774,8],[2775.5,10],[2775.9,10.8],[2778,13],[2780,14.6],[2782,12],[2784,13.5],[2786.1,8.2],[2788,11],[2790,10],[2792.2,13],[2794,14.6],[2796,10],[2800.3,9.5],[2802.5,11],[2804.4,9.5],[2807,12],[2810.9,14.6],[2812.8,10],[2814.2,9.5],[2816,14],[2817.8,19.7],[2819.2,9.5],[2821,11],[2824.7,13.5],[2826.8,15.5],[2829.2,19.7],[2830.8,15.5],[2832.5,12],[2836.5,8.2],[2839.4,15],[2839.7,15]];

// ---------- facies columns ----------
const faciesZones = [[2619.6875, 2729.8], [2729.8, 2839.6875]];
const sandFlags = [[2619.7,2620.0],[2623.1,2623.5],[2630.1,2631.7],[2634.1,2634.6],[2647.1,2648.1],[2650.1,2650.6],[2748.6,2750.1],[2751.7,2753.6],[2760.1,2761.1]];

// ================= drawing =================
const W = 1632, H = 2112;
const depthTop = 2619.6875, depthBottom = 2839.6875;
const y = d3.scaleLinear().domain([depthTop, depthBottom]).range([0, H]);

const svg = d3.select('#chart').append('svg')
  .attr('width', W).attr('height', H)
  .attr('viewBox', `0 0 ${W} ${H}`);
svg.append('rect').attr('width', W).attr('height', H).attr('fill', '#fff');
const defs = svg.append('defs');
function clip(id, x, w) {
  defs.append('clipPath').attr('id', id).append('rect')
    .attr('x', x).attr('y', 0).attr('width', w).attr('height', H);
  return `url(#${id})`;
}

// ---- track 1 ----
const t1Right = 345;
const x1 = d3.scaleLinear().domain([0, 100]).range([0, t1Right]);
const g1 = svg.append('g').attr('clip-path', clip('c1', 0, t1Right));
g1.append('rect').attr('x', 0).attr('y', 0).attr('width', t1Right).attr('height', H).attr('fill', '#808080');

const layers = [
  { data: clayEdge,   color: '#ffff00' },
  { data: waterEdge,  color: '#80bfff' },
  { data: orangeEdge, color: '#ffb300' },
  { data: boundEdge,  color: '#c04545' },
  { data: hydroEdge,  color: '#000000' }
];
layers.forEach(l => {
  const area = d3.area().curve(d3.curveLinear)
    .y(d => y(d[0])).x0(d => x1(d[1])).x1(t1Right + 5);
  g1.append('path').attr('d', area(l.data)).attr('fill', l.color);
  const edge = d3.line().curve(d3.curveLinear).x(d => x1(d[1])).y(d => y(d[0]));
  g1.append('path').attr('d', edge(l.data)).attr('fill', 'none')
    .attr('stroke', '#000').attr('stroke-width', 1).attr('stroke-linejoin', 'round');
});
// vertical divisions
d3.range(1, 10).forEach(i => {
  g1.append('line').attr('x1', x1(i * 10)).attr('x2', x1(i * 10)).attr('y1', 0).attr('y2', H)
    .attr('stroke', '#000').attr('stroke-width', i === 5 ? 2.4 : 1.5);
});
// red curve
g1.append('path')
  .attr('d', d3.line().curve(d3.curveLinear).x(d => x1(d[1])).y(d => y(d[0]))(spCurve))
  .attr('fill', 'none').attr('stroke', '#ff0000').attr('stroke-width', 2.8).attr('stroke-linejoin', 'round');
// borders
svg.append('rect').attr('x', 0).attr('y', 0).attr('width', 3).attr('height', H).attr('fill', '#000');
svg.append('rect').attr('x', 343).attr('y', 0).attr('width', 5).attr('height', H).attr('fill', '#000');
svg.append('rect').attr('x', 348).attr('y', 0).attr('width', 1.5).attr('height', H).attr('fill', '#bbb');
// foot ticks
svg.append('g').selectAll('rect').data(footTicks).join('rect')
  .attr('x', 0).attr('y', d => y(d) - 4).attr('width', 12).attr('height', 8).attr('fill', '#fff');

// ---- depth track ----
const xd = d3.scaleLinear().domain([0, 100]).range([348, 480]);
const dline = d3.line().curve(d3.curveMonotoneY).x(d => xd(d[1])).y(d => y(d[0]));
svg.append('path').attr('d', dline(bitSize)).attr('fill', 'none')
  .attr('stroke', '#000').attr('stroke-width', 3).attr('stroke-dasharray', '5,4');
svg.append('path').attr('d', dline(caliper)).attr('fill', 'none')
  .attr('stroke', '#00bf00').attr('stroke-width', 4).attr('stroke-linejoin', 'round');
svg.append('path').attr('d', dline(tension)).attr('fill', 'none')
  .attr('stroke', '#000').attr('stroke-width', 3.2).attr('stroke-dasharray', '38,14');
svg.append('g').selectAll('text').data(depthLabels).join('text')
  .attr('x', 416).attr('y', d => y(d) + 2)
  .attr('text-anchor', 'middle')
  .attr('font-family', '"Liberation Sans", Arial, Helvetica, sans-serif')
  .attr('font-size', 26).attr('fill', '#000')
  .text(d => d);

// ---- grid tracks 2-7 ----
const gridX0 = 489, trackW = 163.33, nTracks = 6;
const gridX1 = gridX0 + nTracks * trackW;
const tracks = d3.range(nTracks).map(i =>
  d3.scaleLinear().domain([0, 100]).range([gridX0 + i * trackW, gridX0 + (i + 1) * trackW]));
const grid = svg.append('g');
const hDepths = d3.range(2620, 2840, 2);
grid.selectAll('line.h').data(hDepths).join('line')
  .attr('x1', gridX0).attr('x2', gridX1)
  .attr('y1', d => y(d)).attr('y2', d => y(d))
  .attr('stroke', d => d % 10 === 0 ? '#000' : '#1a1a1a')
  .attr('stroke-width', d => d % 10 === 0 ? 3.4 : 1.5);
tracks.forEach(sx => {
  d3.range(1, 5).forEach(k => {
    grid.append('line').attr('x1', sx(k * 20)).attr('x2', sx(k * 20)).attr('y1', 0).attr('y2', H)
      .attr('stroke', '#111').attr('stroke-width', 1.5);
  });
});

let clipCount = 0;
function band(data, sx, color, outer, inner, core, coreShift) {
  const g = svg.append('g').attr('clip-path', clip('cb' + (clipCount++), sx.range()[0] + 2, trackW - 4));
  const p = d3.line().curve(d3.curveMonotoneY).x(d => sx(d[1])).y(d => y(d[0]))(data);
  g.append('path').attr('d', p).attr('fill', 'none').attr('stroke', '#000')
    .attr('stroke-width', outer).attr('stroke-linejoin', 'round');
  g.append('path').attr('d', p).attr('fill', 'none').attr('stroke', color)
    .attr('stroke-width', inner).attr('stroke-linejoin', 'round');
  g.append('path').attr('d', p).attr('fill', 'none').attr('stroke', core.color)
    .attr('stroke-width', core.width).attr('stroke-linejoin', 'round')
    .attr('transform', `translate(${coreShift || 0},0)`);
}

// track 5 filled curve
{
  const sx = tracks[3];
  const g = svg.append('g').attr('clip-path', clip('c5f', sx.range()[0], trackW));
  g.append('path')
    .attr('d', d3.area().curve(d3.curveMonotoneY).y(d => y(d[0])).x0(sx(0)).x1(d => sx(d[1]))(fillT5))
    .attr('fill', '#ffc247');
  g.append('path')
    .attr('d', d3.line().curve(d3.curveMonotoneY).x(d => sx(d[1])).y(d => y(d[0]))(fillT5))
    .attr('fill', 'none').attr('stroke', '#000').attr('stroke-width', 3).attr('stroke-linejoin', 'round');
}

band(curveT2, tracks[0], '#ffb000', 9, 7, { color: '#000', width: 2.2 });
band(curveT3, tracks[1], '#ffff00', 9, 7, { color: '#000', width: 2.2 });
band(curveT4, tracks[2], '#3d00ff', 12, 10, { color: '#000', width: 2.4 });
band(curveT5, tracks[3], '#000000', 6, 6, { color: '#d05000', width: 1.6 });
band(curveT6, tracks[4], '#bf40ff', 10, 8, { color: '#000', width: 2.2 }, -2);
band(curveT7, tracks[5], '#ff1010', 7.5, 5.5, { color: '#000', width: 1.8 });

// track borders
d3.range(nTracks + 1).forEach(i => {
  const xb = gridX0 + i * trackW;
  svg.append('rect').attr('x', xb - 2.5).attr('y', 0).attr('width', 5).attr('height', H).attr('fill', '#000');
});

// ---- facies columns ----
const colEdges = [gridX1 + 2.5, 1506.5, 1545.5, 1581.5];
const fg = svg.append('g');
faciesZones.forEach(z => {
  fg.append('rect').attr('x', colEdges[0]).attr('y', y(z[0]))
    .attr('width', colEdges[3] - colEdges[0]).attr('height', y(z[1]) - y(z[0]))
    .attr('fill', '#00ff00');
});
fg.selectAll('rect.sand').data(sandFlags).join('rect')
  .attr('x', colEdges[2] + 0.8).attr('width', colEdges[3] - colEdges[2] - 0.8)
  .attr('y', d => y(d[0])).attr('height', d => Math.max(1, y(d[1]) - y(d[0])))
  .attr('fill', '#ffff00');
faciesZones.forEach((z, zi) => {
  [colEdges[1], colEdges[2]].forEach(xc => {
    fg.append('line').attr('x1', xc).attr('x2', xc)
      .attr('y1', y(z[0]) + (zi ? 1.5 : 0)).attr('y2', y(z[1]) - (zi ? 0 : 1.5))
      .attr('stroke', '#1a1a1a').attr('stroke-width', 1.6);
  });
});
svg.append('rect').attr('x', 1581.5).attr('y', 0).attr('width', 3.5).attr('height', H).attr('fill', '#000');
</script>
</body>
</html>
